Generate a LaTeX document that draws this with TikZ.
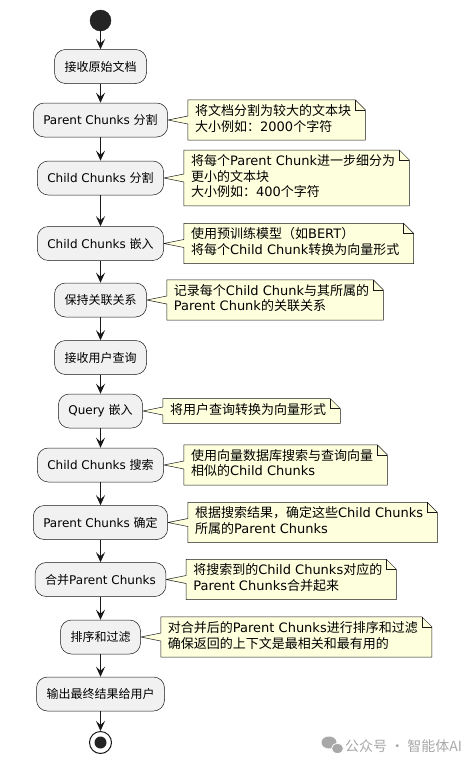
\documentclass[tikz,border=0pt]{standalone}
\usepackage{fontspec}
\setmainfont{DejaVu Sans}
\newfontfamily\cjkfont{Noto Sans CJK SC}
\usetikzlibrary{arrows.meta,backgrounds,calc}
\definecolor{boxfill}{HTML}{F1F1F1}
\definecolor{notefill}{HTML}{FEFFDD}
\definecolor{lineclr}{HTML}{181818}
\definecolor{wmgray}{HTML}{A8A8A8}
\newcommand\zh[1]{{\cjkfont #1}}
\newcommand\notetext[1]{\begin{tabular}{@{\hspace{7pt}}l@{\hspace{14pt}}}#1\end{tabular}}
\newcommand\notewedge[2]{%
  \path[noteshape] (#1.north west) -- ($(#1.north east)+(-10,0)$) -- ($(#1.north east)+(0,10)$)
     -- (#1.south east) -- (#1.south west) -- ($(#1.west |- #2.east)+(0,4)$) -- (#2.east)
     -- ($(#1.west |- #2.east)+(0,-4)$) -- cycle;
  \draw[noteborder] ($(#1.north east)+(-10,0)$) -- ($(#1.north east)+(-10,10)$) -- ($(#1.north east)+(0,10)$);}
\tikzset{
  actbox/.style={draw=lineclr, line width=0.5pt, fill=boxfill, rounded corners=11pt,
    minimum height=34pt, inner xsep=10pt, inner ysep=0pt, font=\fontsize{12}{14}\selectfont},
  notenode/.style={anchor=west, inner xsep=0pt, inner ysep=4.3pt, font=\fontsize{13}{15.5}\selectfont},
  noteshape/.style={draw=lineclr, line width=0.5pt, fill=notefill},
  noteborder/.style={draw=lineclr, line width=0.5pt},
  flow/.style={draw=lineclr, line width=1pt, -{Stealth[length=10pt,width=9pt,inset=4pt]}},
  startdot/.style={circle, fill=lineclr!95!white, draw=lineclr, minimum size=21pt, inner sep=0pt},
  endring/.style={circle, fill=white, draw=lineclr, line width=1pt, minimum size=22pt, inner sep=0pt},
  enddot/.style={circle, fill=lineclr!95!white, minimum size=12pt, inner sep=0pt},
  watermark/.style={text=wmgray, font=\cjkfont\fontsize{14}{16}\selectfont, inner sep=0pt}
}
\begin{document}
\begin{tikzpicture}[x=1pt, y=-1pt]
\useasboundingbox (0,0) rectangle (471,766);
% activity boxes
\node[startdot] (start) at (100.5,20.5) {};
\node[actbox] (b1) at (100.5,66.5) {\zh{接收原始文档}};
\node[actbox] (b2) at (100.5,120) {Parent Chunks \zh{分割}};
\node[actbox] (b3) at (100.5,178) {Child Chunks \zh{分割}};
\node[actbox] (b4) at (100.5,243.5) {Child Chunks \zh{嵌入}};
\node[actbox] (b5) at (100.5,300) {\zh{保持关联关系}};
\node[actbox] (b6) at (100.5,357.5) {\zh{接收用户查询}};
\node[actbox] (b7) at (100.5,411) {Query \zh{嵌入}};
\node[actbox] (b8) at (100.5,465) {Child Chunks \zh{搜索}};
\node[actbox] (b9) at (100.5,522.5) {Parent Chunks \zh{确定}};
\node[actbox] (b10) at (100.5,579.5) {\zh{合并}Parent Chunks};
\node[actbox] (b11) at (100.5,637) {\zh{排序和过滤}};
\node[actbox] (b12) at (100.5,694) {\zh{输出最终结果给用户}};
\node[endring] (end) at (100.5,742.5) {};
\node[enddot] (enddot) at (end.center) {};
% notes
\node[notenode] (n1) at ($(b2.east)+(20,0)$) {\notetext{\zh{将文档分割为较大的文本块}\\\zh{大小例如：}2000\zh{个字符}}};
\node[notenode] (n2) at ($(b3.east)+(20,0)$) {\notetext{\zh{将每个}Parent Chunk\zh{进一步细分为}\\\zh{更小的文本块}\\\zh{大小例如：}400\zh{个字符}}};
\node[notenode] (n3) at ($(b4.east)+(20,0)$) {\notetext{\zh{使用预训练模型（如}BERT\zh{）}\\\zh{将每个}Child Chunk\zh{转换为向量形式}}};
\node[notenode] (n4) at ($(b5.east)+(20,0)$) {\notetext{\zh{记录每个}Child Chunk\zh{与其所属的}\\Parent Chunk\zh{的关联关系}}};
\node[notenode] (n5) at ($(b7.east)+(20,0)$) {\notetext{\zh{将用户查询转换为向量形式}}};
\node[notenode] (n6) at ($(b8.east)+(20,0)$) {\notetext{\zh{使用向量数据库搜索与查询向量}\\\zh{相似的}Child Chunks}};
\node[notenode] (n7) at ($(b9.east)+(20,0)$) {\notetext{\zh{根据搜索结果，确定这些}Child Chunks\\\zh{所属的}Parent Chunks}};
\node[notenode] (n8) at ($(b10.east)+(20,0)$) {\notetext{\zh{将搜索到的}Child Chunks\zh{对应的}\\Parent Chunks\zh{合并起来}}};
\node[notenode] (n9) at ($(b11.east)+(20,0)$) {\notetext{\zh{对合并后的}Parent Chunks\zh{进行排序和过滤}\\\zh{确保返回的上下文是最相关和最有用的}}};
\begin{pgfonlayer}{background}
  \fill[white] (0,0) rectangle (471,766);
  \notewedge{n1}{b2}
  \notewedge{n2}{b3}
  \notewedge{n3}{b4}
  \notewedge{n4}{b5}
  \notewedge{n5}{b7}
  \notewedge{n6}{b8}
  \notewedge{n7}{b9}
  \notewedge{n8}{b10}
  \notewedge{n9}{b11}
\end{pgfonlayer}
% connectors
\draw[flow] (start) -- (b1);
\draw[flow] (b1) -- (b2);
\draw[flow] (b2) -- (b3);
\draw[flow] (b3) -- (b4);
\draw[flow] (b4) -- (b5);
\draw[flow] (b5) -- (b6);
\draw[flow] (b6) -- (b7);
\draw[flow] (b7) -- (b8);
\draw[flow] (b8) -- (b9);
\draw[flow] (b9) -- (b10);
\draw[flow] (b10) -- (b11);
\draw[flow] (b11) -- (b12);
\draw[flow] (b12) -- (end);
% watermark
\node[watermark, anchor=west] (wm) at (345,746) {公众号 · 智能体AI};
\fill[wmgray] (329,742.5) ellipse [x radius=7.5pt, y radius=6pt];
\filldraw[fill=wmgray, draw=white, line width=0.8pt] (337.5,748.5) ellipse [x radius=6pt, y radius=5pt];
\end{tikzpicture}
\end{document}
